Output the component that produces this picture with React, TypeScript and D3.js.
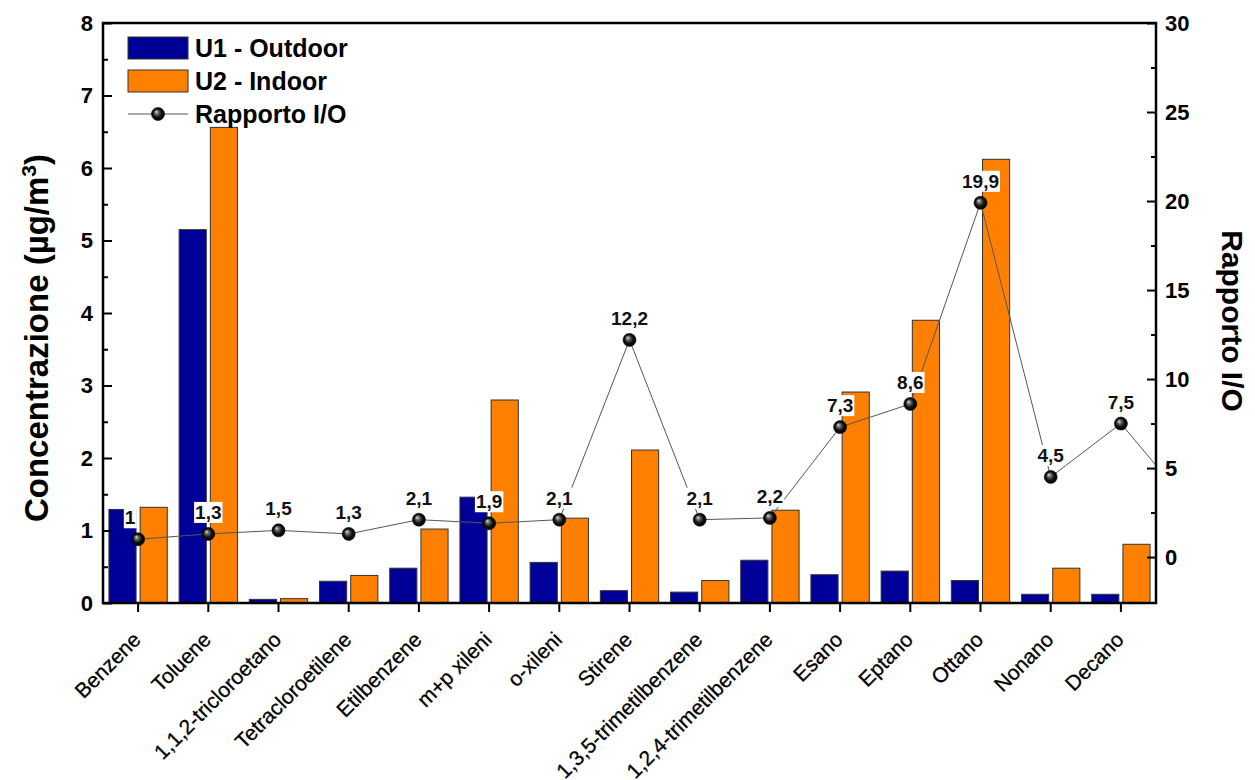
import React, { useEffect, useRef } from 'react';
import * as d3 from 'd3';

const categories = [
  'Benzene', 'Toluene', '1,1,2-tricloroetano', 'Tetracloroetilene', 'Etilbenzene',
  'm+p xileni', 'o-xileni', 'Stirene', '1,3,5-trimetilbenzene', '1,2,4-trimetilbenzene',
  'Esano', 'Eptano', 'Ottano', 'Nonano', 'Decano',
];
const outdoor = [1.29, 5.15, 0.05, 0.30, 0.48, 1.46, 0.56, 0.17, 0.15, 0.59, 0.39, 0.44, 0.31, 0.12, 0.12];
const indoor = [1.32, 6.56, 0.06, 0.38, 1.02, 2.80, 1.17, 2.11, 0.31, 1.28, 2.91, 3.90, 6.12, 0.48, 0.81];
const ratio = [1.0, 1.3, 1.5, 1.3, 2.1, 1.9, 2.1, 12.2, 2.1, 2.2, 7.3, 8.6, 19.9, 4.5, 7.5];
const ratioLabels = ['1', '1,3', '1,5', '1,3', '2,1', '1,9', '2,1', '12,2', '2,1', '2,2', '7,3', '8,6', '19,9', '4,5', '7,5'];
const ratioTail = [2.8];
const leftTicks = [0, 1, 2, 3, 4, 5, 6, 7, 8];
const leftMinor = [0.5, 1.5, 2.5, 3.5, 4.5, 5.5, 6.5, 7.5];
const rightTicks = [0, 5, 10, 15, 20, 25, 30];
const rightMinor = [2.5, 7.5, 12.5, 17.5, 22.5, 27.5];
const seriesNames = ['U1 - Outdoor', 'U2 - Indoor', 'Rapporto I/O'];
const barColors = ['#000099', '#FF8000'];

const W = 1255, H = 780;
const FONT = '"Liberation Sans", Arial, Helvetica, sans-serif';

export default function App() {
  const ref = useRef<SVGSVGElement>(null);

  useEffect(() => {
    const svg = d3.select(ref.current);
    svg.selectAll('*').remove();

    const left = 103, right = 1156, top = 23, bottom = 603;
    const x = d3.scaleBand<string>().domain(categories).range([left, right]).padding(0);
    const sub = d3.scaleBand<number>().domain([0, 1]).range([0, x.bandwidth()]).paddingInner(0.13).paddingOuter(0.19);
    const yL = d3.scaleLinear().domain([0, 8]).range([bottom, top]);
    const yR = d3.scaleLinear().domain([-2.58, 30]).range([bottom, top]);

    const defs = svg.append('defs');
    const grad = defs.append('radialGradient').attr('id', 'ball').attr('cx', '50%').attr('cy', '50%').attr('r', '50%').attr('fx', '35%').attr('fy', '32%');
    grad.append('stop').attr('offset', '0%').attr('stop-color', '#e8e8e8');
    grad.append('stop').attr('offset', '25%').attr('stop-color', '#777');
    grad.append('stop').attr('offset', '65%').attr('stop-color', '#111');
    grad.append('stop').attr('offset', '100%').attr('stop-color', '#000');
    defs.append('clipPath').attr('id', 'plotclip').append('rect')
      .attr('x', left).attr('y', top).attr('width', right - left).attr('height', bottom - top);

    // bars
    const series = [outdoor, indoor];
    series.forEach((vals, si) => {
      svg.append('g').selectAll('rect').data(vals).join('rect')
        .attr('x', (_, i) => (x(categories[i]) as number) + (sub(si) as number))
        .attr('width', sub.bandwidth())
        .attr('y', (d) => yL(d))
        .attr('height', (d) => yL(0) - yL(d))
        .attr('fill', barColors[si])
        .attr('stroke', '#333')
        .attr('stroke-width', 1);
    });

    const cx = (i: number) => (x(categories[i]) as number) + x.bandwidth() / 2;
    const step = x.step();

    // ratio line (with tail, clipped)
    const linePts: [number, number][] = ratio.map((v, i) => [cx(i), yR(v)]);
    ratioTail.forEach((v, k) => linePts.push([cx(ratio.length - 1) + step * (k + 1), yR(v)]));
    svg.append('path')
      .attr('d', d3.line()(linePts))
      .attr('fill', 'none')
      .attr('stroke', '#555')
      .attr('stroke-width', 1)
      .attr('clip-path', 'url(#plotclip)');

    // labels with white background
    const lg = svg.append('g');
    ratio.forEach((v, i) => {
      const g = lg.append('g');
      const t = g.append('text')
        .attr('x', cx(i) - (ratioLabels[i].length === 1 ? 8 : 0))
        .attr('y', yR(v) - 15)
        .attr('text-anchor', 'middle')
        .attr('font-family', FONT)
        .attr('font-weight', 'bold')
        .attr('font-size', 19)
        .attr('fill', '#111')
        .text(ratioLabels[i]);
      const bb = (t.node() as SVGTextElement).getBBox();
      g.insert('rect', 'text')
        .attr('x', bb.x - 1).attr('y', bb.y)
        .attr('width', bb.width + 2).attr('height', bb.height)
        .attr('fill', '#fff');
    });

    // markers
    svg.append('g').selectAll('circle').data(ratio).join('circle')
      .attr('cx', (_, i) => cx(i))
      .attr('cy', (d) => yR(d))
      .attr('r', 6.5)
      .attr('fill', 'url(#ball)')
      .attr('stroke', '#000')
      .attr('stroke-width', 0.6);

    // frame
    svg.append('rect')
      .attr('x', left).attr('y', top).attr('width', right - left).attr('height', bottom - top)
      .attr('fill', 'none').attr('stroke', '#000').attr('stroke-width', 2.5);

    const styleAxis = (g: any) => {
      g.select('.domain').remove();
      g.selectAll('line').attr('stroke', '#000').attr('stroke-width', 2);
      g.selectAll('text').attr('font-family', FONT).attr('font-weight', 'bold').attr('font-size', 22).attr('fill', '#000');
    };

    // left axis
    svg.append('g').attr('transform', `translate(${left},0)`)
      .call(d3.axisLeft(yL).tickValues(leftTicks).tickSize(-9).tickPadding(10).tickFormat(d3.format('d')))
      .call(styleAxis);
    svg.append('g').attr('transform', `translate(${left},0)`)
      .call(d3.axisLeft(yL).tickValues(leftMinor).tickSize(-5).tickFormat(() => ''))
      .call(styleAxis);

    // right axis
    svg.append('g').attr('transform', `translate(${right},0)`)
      .call(d3.axisRight(yR).tickValues(rightTicks).tickSize(-9).tickPadding(9).tickFormat(d3.format('d')))
      .call(styleAxis);
    svg.append('g').attr('transform', `translate(${right},0)`)
      .call(d3.axisRight(yR).tickValues(rightMinor).tickSize(-5).tickFormat(() => ''))
      .call(styleAxis);

    // bottom axis ticks
    svg.append('g').attr('transform', `translate(0,${bottom})`)
      .call(d3.axisBottom(x).tickSize(9).tickFormat(() => ''))
      .call(styleAxis);

    // category labels
    svg.append('g').selectAll('text').data(categories).join('text')
      .attr('transform', (_, i) => `translate(${cx(i) + 4},641) rotate(-45)`)
      .attr('text-anchor', 'end')
      .attr('font-family', FONT)
      .attr('font-size', 21)
      .attr('fill', '#000')
      .attr('stroke', '#000')
      .attr('stroke-width', 0.3)
      .text((d) => d);

    // axis titles
    const lt = svg.append('text')
      .attr('transform', `translate(48,338) rotate(-90)`)
      .attr('text-anchor', 'middle')
      .attr('font-family', FONT)
      .attr('font-weight', 'bold')
      .attr('font-size', 33)
      .attr('fill', '#000');
    lt.append('tspan').text('Concentrazione (µg/m');
    lt.append('tspan').attr('font-size', 21).attr('dy', -12).text('3');
    lt.append('tspan').attr('dy', 12).text(')');

    svg.append('text')
      .attr('transform', `translate(1222,321) rotate(90)`)
      .attr('text-anchor', 'middle')
      .attr('font-family', FONT)
      .attr('font-weight', 'bold')
      .attr('font-size', 30)
      .attr('fill', '#000')
      .text('Rapporto I/O');

    // legend
    const leg = svg.append('g');
    const lx = 128, lw = 60;
    const rowY = [48, 81, 114];
    [0, 1].forEach((si) => {
      leg.append('rect')
        .attr('x', lx).attr('y', rowY[si] - 11).attr('width', lw).attr('height', 22)
        .attr('fill', barColors[si]).attr('stroke', '#333').attr('stroke-width', 1);
    });
    leg.append('line')
      .attr('x1', lx).attr('x2', lx + lw).attr('y1', rowY[2]).attr('y2', rowY[2])
      .attr('stroke', '#555').attr('stroke-width', 1);
    leg.append('circle')
      .attr('cx', lx + lw / 2).attr('cy', rowY[2]).attr('r', 6.5)
      .attr('fill', 'url(#ball)').attr('stroke', '#000').attr('stroke-width', 0.6);
    seriesNames.forEach((name, i) => {
      leg.append('text')
        .attr('x', lx + lw + 7).attr('y', rowY[i] + 9)
        .attr('font-family', FONT)
        .attr('font-weight', 'bold')
        .attr('font-size', 25)
        .attr('fill', '#000')
        .text(name);
    });
  }, []);

  return (
    <svg
      ref={ref}
      width={W}
      height={H}
      style={{ position: 'absolute', left: 0, top: 0, display: 'block', background: '#fff' }}
    />
  );
}
